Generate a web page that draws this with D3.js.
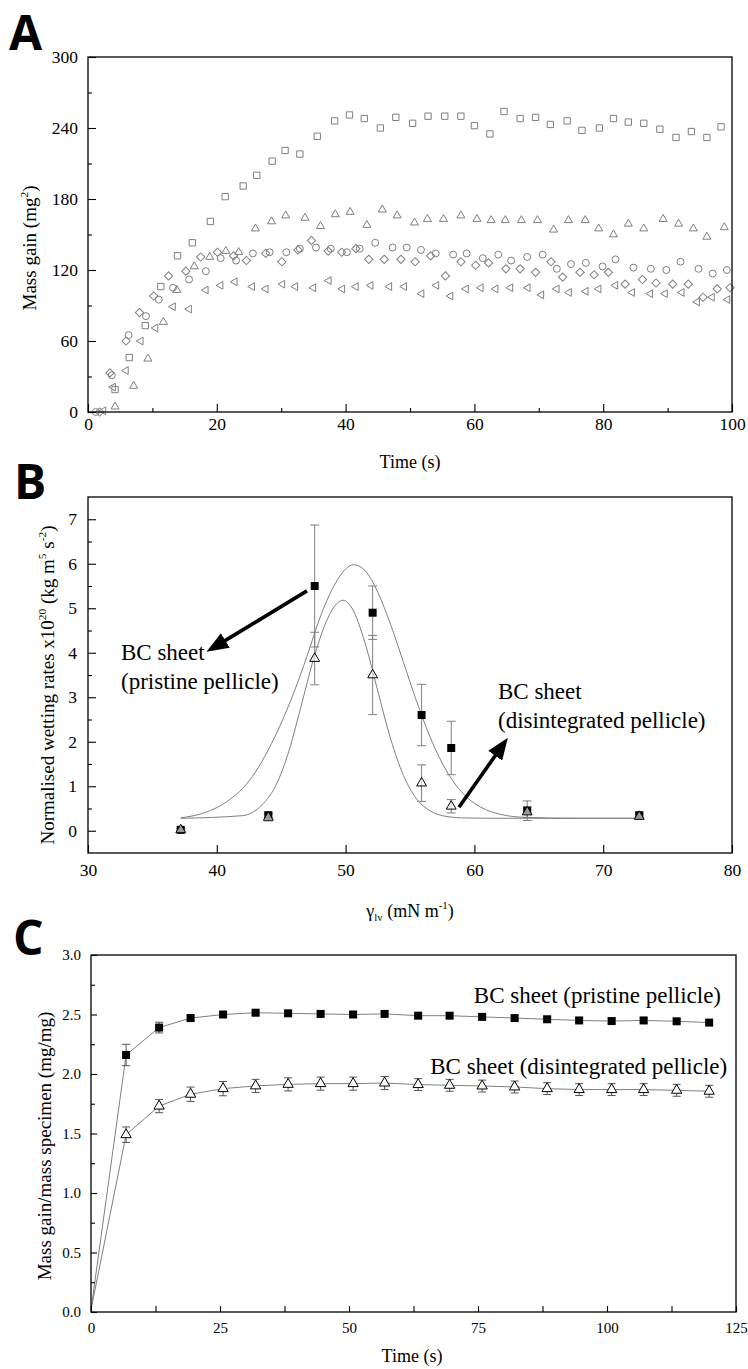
<!DOCTYPE html>
<html lang="en">
<head>
<meta charset="UTF-8" />
<title>BC sheet wetting</title>
<script src="https://cdn.jsdelivr.net/npm/d3@7"></script>
<style>
  body { margin: 0; background: #fff; }
</style>
</head>
<body>
<div id="container"></div>
<script>
// ---------- panel A : mass gain vs time (five liquids, open symbols)
const squareTime = [4.2, 6.4, 8.9, 11.3, 13.9, 16.2, 19.0, 21.3, 24.1, 26.2, 28.6, 30.6, 32.9, 35.6, 38.3, 40.6, 42.9, 45.4, 47.8, 50.4, 52.8, 55.4, 57.9, 60.0, 62.4, 64.6, 67.1, 69.5, 71.8, 74.4, 76.7, 79.4, 81.6, 83.9, 86.3, 88.8, 91.3, 93.7, 96.1, 98.3]
const squareGain = [19, 46, 73, 106, 132, 143, 161, 182, 191, 200, 212, 221, 218, 233, 246, 251, 248, 240, 249, 244, 250, 250, 250, 242, 235, 254, 248, 249, 243, 246, 238, 240, 248, 245, 244, 239, 232, 237, 232, 241]

const triUpTime = [4.2, 7.1, 9.3, 11.7, 13.8, 16.5, 18.9, 21.4, 23.4, 26.0, 28.5, 30.7, 33.7, 36.1, 38.4, 40.7, 43.3, 45.7, 48.0, 50.7, 52.7, 55.2, 57.9, 60.4, 62.6, 64.8, 67.3, 69.8, 72.3, 74.6, 77.2, 79.3, 81.6, 83.9, 86.3, 89.3, 91.7, 94.0, 96.1, 98.8]
const triUpGain = [4.5, 22, 45, 76, 103, 123, 131, 136, 135, 155, 161, 166, 164, 157, 167, 169, 158, 171, 166, 160, 163, 163, 166, 163, 162, 162, 162, 162, 154, 162, 162, 155, 150, 159, 155, 163, 159, 155, 148, 156]

const circleTime = [1.2, 3.7, 6.3, 9.0, 11.0, 13.2, 15.7, 18.3, 20.6, 23.0, 25.6, 28.2, 30.8, 32.9, 35.4, 37.7, 40.2, 42.2, 44.6, 47.3, 49.5, 51.7, 54.0, 56.7, 58.8, 61.3, 63.7, 65.7, 68.2, 70.6, 72.8, 75.0, 77.3, 79.9, 81.9, 84.7, 87.4, 89.8, 92.0, 94.8, 97.0, 99.2]
const circleGain = [0, 31, 65, 81, 95, 105, 112, 119, 130, 128, 134, 135, 135, 138, 139, 138, 135, 138, 143, 139, 139, 137, 134, 133, 134, 130, 133, 128, 131, 133, 121, 125, 126, 123, 129, 122, 121, 120, 127, 121, 117, 120]

const diamondTime = [1.8, 3.4, 5.9, 8.0, 10.2, 12.5, 15.2, 17.5, 20.1, 22.6, 24.6, 27.6, 30.1, 32.6, 34.7, 37.3, 39.4, 41.6, 43.6, 46.0, 48.6, 50.8, 53.2, 55.5, 57.9, 60.2, 62.2, 64.9, 67.1, 69.5, 71.9, 73.7, 76.4, 78.6, 80.8, 83.4, 86.1, 88.2, 90.8, 93.2, 95.5, 97.7, 99.7]
const diamondGain = [0, 33, 60, 84, 98, 115, 119, 131, 135, 132, 128, 134, 127, 137, 145, 136, 135, 138, 129, 129, 129, 127, 132, 115, 127, 124, 126, 121, 121, 118, 127, 114, 118, 116, 118, 108, 112, 109, 108, 108, 97, 104, 105]

const triLeftTime = [2.4, 3.9, 5.9, 8.2, 10.5, 13.2, 15.7, 18.3, 20.6, 22.8, 25.5, 27.6, 30.2, 32.2, 35.0, 37.4, 39.5, 41.6, 43.9, 46.8, 49.1, 51.8, 54.1, 56.3, 58.7, 61.0, 63.3, 65.6, 68.3, 70.4, 72.8, 74.7, 77.3, 79.3, 81.9, 84.5, 87.3, 89.6, 92.2, 94.6, 96.9, 99.3]
const triLeftGain = [1, 21, 35, 60, 71, 89, 87, 103, 107, 110, 106, 104, 108, 106, 105, 111, 104, 106, 107, 106, 106, 100, 107, 98, 104, 105, 104, 105, 105, 99, 104, 101, 102, 104, 107, 101, 100, 100, 101, 93, 97, 95]

const aXTicks = [0, 20, 40, 60, 80, 100]
const aYTicks = [0, 60, 120, 180, 240, 300]

// ---------- panel B : normalised wetting rate vs surface tension
const gammaLV = [37.2, 44.0, 47.6, 52.1, 55.9, 58.2, 64.1, 72.8]
const pristineRate = [0.02, 0.35, 5.50, 4.90, 2.60, 1.86, 0.45, 0.35]
const pristineErr = [0.03, 0.05, 1.37, 0.60, 0.69, 0.60, 0.22, 0.05]
const disintRate = [0.02, 0.30, 3.87, 3.50, 1.07, 0.55, 0.42, 0.32]
const disintErr = [0.03, 0.08, 0.59, 0.89, 0.41, 0.15, 0.12, 0.05]

// fitted peaks
const pristineFitG = [37.2, 39, 40, 41, 42, 43, 44, 45, 46, 47, 48, 49, 50, 50.6, 51.5, 52.5, 53.5, 54.5, 55.5, 56.5, 57.5, 58.5, 59.5, 60.5, 62, 64, 68, 72.8]
const pristineFitR = [0.29, 0.40, 0.52, 0.70, 0.95, 1.32, 1.82, 2.42, 3.12, 3.92, 4.78, 5.45, 5.88, 5.98, 5.85, 5.36, 4.63, 3.78, 2.92, 2.15, 1.52, 1.05, 0.73, 0.53, 0.37, 0.30, 0.28, 0.28]
const disintFitG = [37.2, 42, 43.5, 44.5, 45.5, 46.5, 47.5, 48.5, 49.3, 49.8, 50.5, 51.5, 52.5, 53.5, 54.5, 55.5, 56.5, 57.5, 59, 62, 72.8]
const disintFitR = [0.28, 0.34, 0.58, 0.97, 1.70, 2.75, 3.85, 4.70, 5.10, 5.18, 5.0, 4.23, 3.14, 2.06, 1.24, 0.72, 0.46, 0.34, 0.29, 0.28, 0.28]

const bXTicks = [30, 40, 50, 60, 70, 80]
const bYTicks = [0, 1, 2, 3, 4, 5, 6, 7]

// ---------- panel C : mass gain / specimen mass vs time
const cTime = [0, 6.8, 13.2, 19.3, 25.6, 31.9, 38.2, 44.5, 50.8, 56.9, 63.4, 69.5, 75.8, 82.1, 88.4, 94.6, 100.9, 107.1, 113.5, 119.8]
const cPristine = [0.02, 2.16, 2.39, 2.47, 2.50, 2.515, 2.51, 2.505, 2.50, 2.505, 2.49, 2.49, 2.48, 2.47, 2.46, 2.45, 2.445, 2.45, 2.443, 2.432]
const cPristineErr = [0, 0.09, 0.045, 0.02, 0.02, 0.02, 0.02, 0.02, 0.02, 0.02, 0.02, 0.02, 0.02, 0.02, 0.02, 0.02, 0.02, 0.02, 0.02, 0.02]
const cDisint = [0.02, 1.49, 1.73, 1.83, 1.877, 1.90, 1.913, 1.919, 1.919, 1.924, 1.911, 1.905, 1.899, 1.891, 1.877, 1.869, 1.869, 1.869, 1.863, 1.855]
const cDisintErr = [0, 0.065, 0.055, 0.06, 0.06, 0.055, 0.055, 0.055, 0.055, 0.055, 0.05, 0.05, 0.05, 0.05, 0.05, 0.05, 0.05, 0.05, 0.05, 0.05]

const cXTicks = [0, 25, 50, 75, 100, 125]
const cYTicks = [0, 0.5, 1.0, 1.5, 2.0, 2.5, 3.0]

// -----------------------------------------------------------------
const W = 748, H = 1369
const serif = "'Liberation Serif','Times New Roman',Times,serif"
const grey = '#7f7f7f'

const svg = d3.select('#container').append('svg')
  .attr('width', W).attr('height', H)
  .attr('viewBox', [0, 0, W, H])
  .style('background', '#fff')

svg.append('defs').append('marker')
  .attr('id', 'head')
  .attr('markerUnits', 'userSpaceOnUse')
  .attr('viewBox', '0 0 22 17')
  .attr('markerWidth', 22).attr('markerHeight', 17)
  .attr('refX', 10).attr('refY', 8.5)
  .attr('orient', 'auto')
  .append('path').attr('d', 'M0,0 L22,8.5 L0,17 Z').attr('fill', '#000')

const zip = (a, b) => a.map((v, i) => [v, b[i]])

function frame(x, y) {
  const [x0, x1] = x.range(), [y0, y1] = y.range()
  svg.append('rect')
    .attr('x', x0).attr('y', y1)
    .attr('width', x1 - x0).attr('height', y0 - y1)
    .attr('fill', 'none').attr('stroke', '#000').attr('stroke-width', 1.3)
}

// inward ticks, labels on the left and bottom only
function axes(x, y, o) {
  const bottom = y.range()[0], left = x.range()[0]
  const tidy = g => {
    g.select('.domain').remove()
    g.selectAll('line').attr('stroke', '#000').attr('stroke-width', 1.1)
    g.attr('font-family', serif).attr('font-size', o.fs)
  }
  svg.append('g').attr('transform', `translate(0,${bottom})`)
    .call(d3.axisBottom(x).tickValues(o.xMinor).tickSize(-o.minorX).tickFormat(''))
    .call(tidy)
  svg.append('g').attr('transform', `translate(0,${bottom})`)
    .call(d3.axisBottom(x).tickValues(o.xTicks).tickSize(-o.major).tickPadding(o.xPad).tickFormat(o.xFmt))
    .call(tidy)
  svg.append('g').attr('transform', `translate(${left},0)`)
    .call(d3.axisLeft(y).tickValues(o.yMinor).tickSize(-o.minor).tickFormat(''))
    .call(tidy)
  svg.append('g').attr('transform', `translate(${left},0)`)
    .call(d3.axisLeft(y).tickValues(o.yTicks).tickSize(-o.major).tickPadding(o.yPad).tickFormat(o.yFmt))
    .call(tidy)
}

// text with super/subscripts
function rich(sel, parts, fs) {
  let shift = 0
  parts.forEach(p => {
    const [t, k] = typeof p === 'string' ? [p, null] : p
    const target = k === 'sup' ? -0.42 * fs : k === 'sub' ? 0.22 * fs : 0
    sel.append('tspan').text(t)
      .attr('dy', target - shift)
      .attr('font-size', k ? fs * 0.6 : fs)
    shift = target
  })
}

function yLabel(x, y, parts, fs) {
  const t = svg.append('text')
    .attr('transform', `translate(${x},${y}) rotate(-90)`)
    .attr('text-anchor', 'middle')
    .attr('font-family', serif).attr('font-size', fs)
  rich(t, parts, fs)
}

function xLabel(x, y, parts, fs) {
  const t = svg.append('text')
    .attr('x', x).attr('y', y)
    .attr('text-anchor', 'middle')
    .attr('font-family', serif).attr('font-size', fs)
  rich(t, parts, fs)
}

function panelLetter(txt, x, y) {
  svg.append('text').attr('x', x).attr('y', y)
    .attr('font-family', "'Open Sans','Noto Sans',sans-serif")
    .attr('font-weight', 700).attr('font-size', 48)
    .text(txt)
}

function arrow(x, y, from, to) {
  const x1 = x(from[0]), y1 = y(from[1]), x2 = x(to[0]), y2 = y(to[1])
  const len = Math.hypot(x2 - x1, y2 - y1)
  const k = (len - 12) / len
  svg.append('line')
    .attr('x1', x1).attr('y1', y1)
    .attr('x2', x1 + (x2 - x1) * k).attr('y2', y1 + (y2 - y1) * k)
    .attr('stroke', '#000').attr('stroke-width', 3.6)
    .attr('marker-end', 'url(#head)')
}

function errorBars(x, y, xs, ys, es, cap, color) {
  const g = svg.append('g').attr('stroke', color).attr('stroke-width', 1).attr('fill', 'none')
  xs.forEach((xv, i) => {
    if (!es[i]) return
    const px = x(xv), top = y(ys[i] + es[i]), bot = y(ys[i] - es[i])
    g.append('line').attr('x1', px).attr('x2', px).attr('y1', top).attr('y2', bot)
    g.append('line').attr('x1', px - cap).attr('x2', px + cap).attr('y1', top).attr('y2', top)
    g.append('line').attr('x1', px - cap).attr('x2', px + cap).attr('y1', bot).attr('y2', bot)
  })
}

// ================= A =================
{
  const x = d3.scaleLinear().domain([0, 100]).range([88, 732])
  const y = d3.scaleLinear().domain([0, 300]).range([412, 57])

  const series = [
    { t: squareTime, v: squareGain, type: d3.symbolSquare, size: 40, rot: 0 },
    { t: triUpTime, v: triUpGain, type: d3.symbolTriangle, size: 28, rot: 0 },
    { t: circleTime, v: circleGain, type: d3.symbolCircle, size: 38, rot: 0 },
    { t: diamondTime, v: diamondGain, type: d3.symbolSquare, size: 34, rot: 45 },
    { t: triLeftTime, v: triLeftGain, type: d3.symbolTriangle, size: 26, rot: -90 }
  ]
  series.forEach(s => {
    svg.append('g')
      .selectAll('path')
      .data(zip(s.t, s.v))
      .join('path')
      .attr('d', d3.symbol(s.type, s.size))
      .attr('transform', d => `translate(${x(d[0])},${y(d[1])}) rotate(${s.rot})`)
      .attr('fill', 'none').attr('stroke', grey).attr('stroke-width', 1)
  })

  frame(x, y)
  axes(x, y, {
    xTicks: aXTicks, xMinor: [10, 30, 50, 70, 90],
    yTicks: aYTicks, yMinor: [30, 90, 150, 210, 270],
    major: 8, minor: 4, minorX: 4, fs: 17.5, xPad: 6, yPad: 10,
    xFmt: d3.format('d'), yFmt: d3.format('d')
  })
  xLabel(410, 468, ['Time (s)'], 18)
  yLabel(36, 248, ['Mass gain (mg', ['2', 'sup'], ')'], 19)
  panelLetter('A', 9, 50)
}

// ================= B =================
{
  const x = d3.scaleLinear().domain([30, 80]).range([88, 732])
  const y = d3.scaleLinear().domain([-0.5, 7.5]).range([853, 497])

  errorBars(x, y, gammaLV, pristineRate, pristineErr, 4.5, grey)
  errorBars(x, y, gammaLV, disintRate, disintErr, 4.5, grey)

  const line = d3.line().x(d => x(d[0])).y(d => y(d[1])).curve(d3.curveMonotoneX)
  ;[zip(pristineFitG, pristineFitR), zip(disintFitG, disintFitR)].forEach(pts => {
    svg.append('path').attr('d', line(pts))
      .attr('fill', 'none').attr('stroke', grey).attr('stroke-width', 1)
  })

  svg.append('g').selectAll('path')
    .data(zip(gammaLV, pristineRate))
    .join('path')
    .attr('d', d3.symbol(d3.symbolSquare, 64))
    .attr('transform', d => `translate(${x(d[0])},${y(d[1])})`)
    .attr('fill', '#000')

  svg.append('g').selectAll('path')
    .data(zip(gammaLV, disintRate))
    .join('path')
    .attr('d', d3.symbol(d3.symbolTriangle, 42))
    .attr('transform', d => `translate(${x(d[0])},${y(d[1])})`)
    .attr('fill', '#fff').attr('fill-opacity', 0.6)
    .attr('stroke', '#000').attr('stroke-width', 1)

  frame(x, y)
  axes(x, y, {
    xTicks: bXTicks, xMinor: [],
    yTicks: bYTicks, yMinor: [0.5, 1.5, 2.5, 3.5, 4.5, 5.5, 6.5],
    major: 8, minor: 4, minorX: 4, fs: 17.5, xPad: 11, yPad: 11,
    xFmt: d3.format('d'), yFmt: d3.format('d')
  })

  const note = (g, r, lines) => {
    const t = svg.append('text').attr('font-family', serif).attr('font-size', 23)
    lines.forEach((s, i) => t.append('tspan').attr('x', x(g)).attr('y', y(r) + i * 29).text(s))
  }
  note(32.56, 3.83, ['BC sheet', '(pristine pellicle)'])
  note(61.83, 2.97, ['BC sheet', '(disintegrated pellicle)'])
  arrow(x, y, [47.0, 5.39], [39.2, 4.02])
  arrow(x, y, [58.8, 0.53], [62.6, 2.09])

  xLabel(410, 917, ['\u03b3', ['lv', 'sub'], ' (mN m', ['-1', 'sup'], ')'], 18)
  yLabel(54, 685, ['Normalised wetting rates x10', ['20', 'sup'], ' (kg m', ['5', 'sup'], ' s', ['-2', 'sup'], ')'], 19)
  panelLetter('B', 14, 499)
}

// ================= C =================
{
  const x = d3.scaleLinear().domain([0, 125]).range([91, 736])
  const y = d3.scaleLinear().domain([0, 3]).range([1312, 955])

  const line = d3.line().x(d => x(d[0])).y(d => y(d[1]))
  ;[zip(cTime, cPristine), zip(cTime, cDisint)].forEach(pts => {
    svg.append('path').attr('d', line(pts))
      .attr('fill', 'none').attr('stroke', grey).attr('stroke-width', 1)
  })

  errorBars(x, y, cTime, cPristine, cPristineErr, 4, '#555')
  errorBars(x, y, cTime, cDisint, cDisintErr, 4, '#555')

  svg.append('g').selectAll('path')
    .data(zip(cTime, cPristine).slice(1))
    .join('path')
    .attr('d', d3.symbol(d3.symbolSquare, 64))
    .attr('transform', d => `translate(${x(d[0])},${y(d[1])})`)
    .attr('fill', '#000')

  svg.append('g').selectAll('path')
    .data(zip(cTime, cDisint).slice(1))
    .join('path')
    .attr('d', d3.symbol(d3.symbolTriangle, 46))
    .attr('transform', d => `translate(${x(d[0])},${y(d[1])})`)
    .attr('fill', '#fff').attr('stroke', '#000').attr('stroke-width', 1)

  frame(x, y)
  axes(x, y, {
    xTicks: cXTicks, xMinor: [12.5, 37.5, 62.5, 87.5, 112.5],
    yTicks: cYTicks, yMinor: [0.25, 0.75, 1.25, 1.75, 2.25, 2.75],
    major: 6, minor: 4, minorX: 6, fs: 15, xPad: 10, yPad: 10,
    xFmt: d3.format('d'), yFmt: d3.format('.1f')
  })

  svg.append('text').attr('x', x(122.1)).attr('y', y(2.60))
    .attr('text-anchor', 'end').attr('font-family', serif).attr('font-size', 23)
    .text('BC sheet (pristine pellicle)')
  svg.append('text').attr('x', x(123.3)).attr('y', y(2.0))
    .attr('text-anchor', 'end').attr('font-family', serif).attr('font-size', 23)
    .text('BC sheet (disintegrated pellicle)')

  xLabel(412, 1362, ['Time (s)'], 18)
  yLabel(51, 1146, ['Mass gain/mass specimen (mg/mg)'], 19)
  panelLetter('C', 13, 955)
}
</script>
</body>
</html>
